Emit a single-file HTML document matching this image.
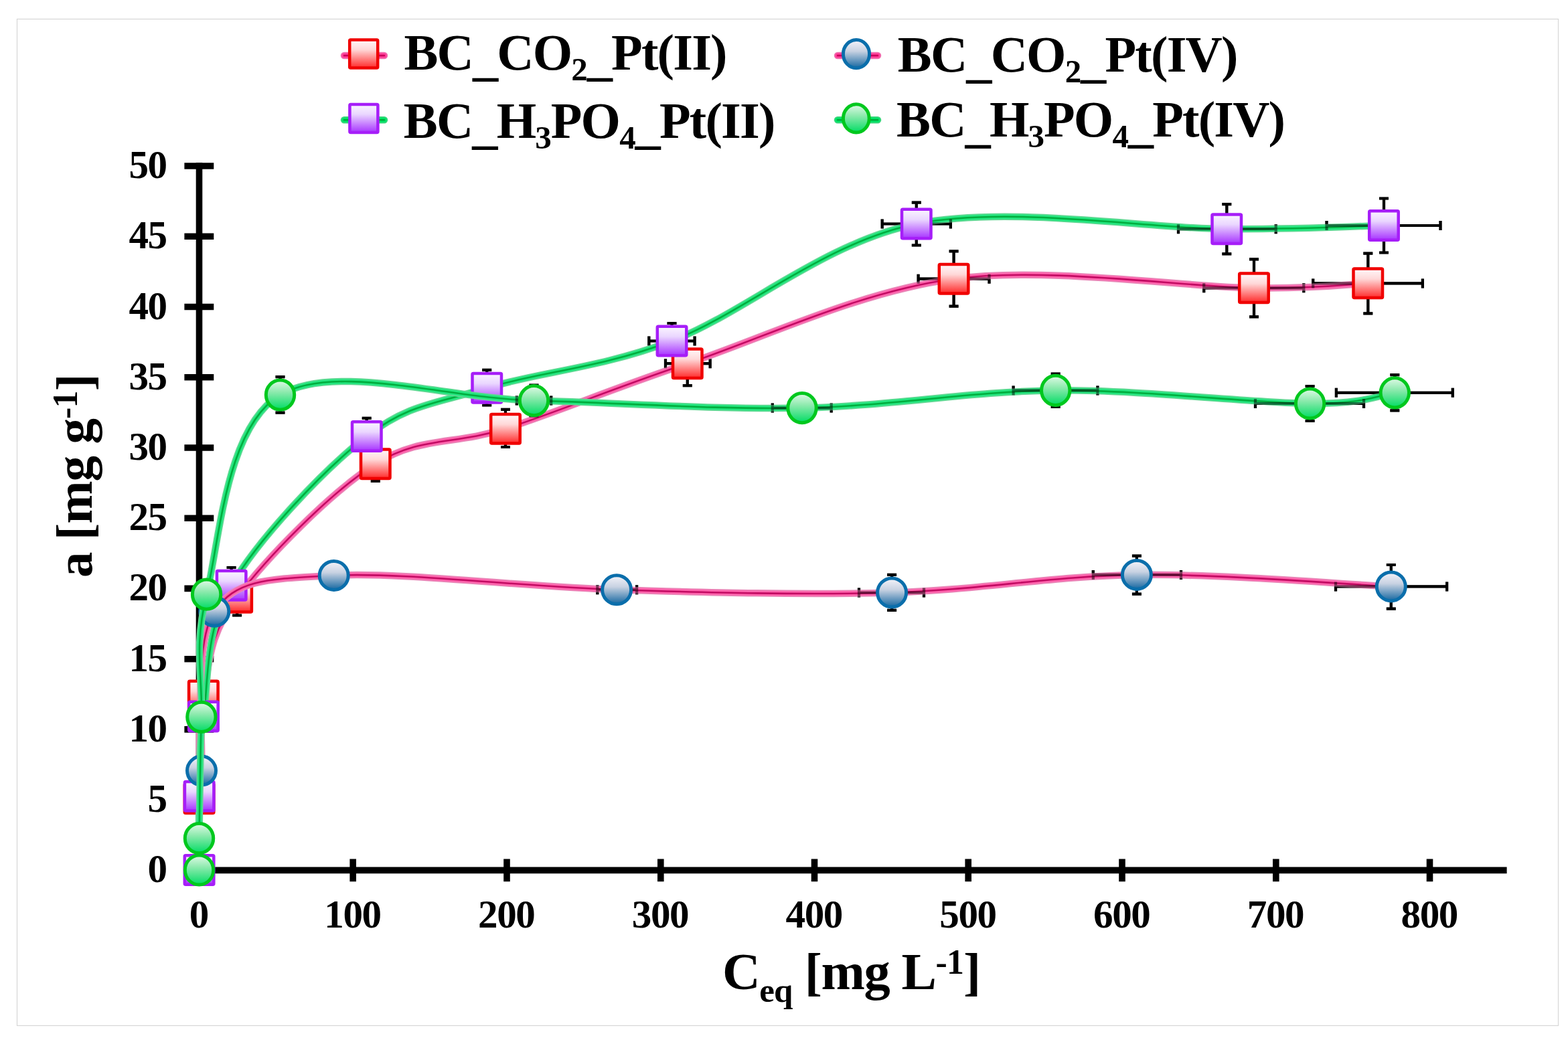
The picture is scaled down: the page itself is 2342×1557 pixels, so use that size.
<!DOCTYPE html>
<html><head><meta charset="utf-8"><title>Adsorption isotherms</title>
<style>html,body{margin:0;padding:0;background:#fff;width:2342px;height:1557px;overflow:hidden}svg{display:block}</style>
</head><body>
<svg width="2342" height="1557" viewBox="0 0 2342 1557">
<defs>
<linearGradient id="gR" x1="0" y1="0" x2="0" y2="1"><stop offset="0" stop-color="#fff8fa"/><stop offset="0.35" stop-color="#ffd8d8"/><stop offset="1" stop-color="#ff2a2a"/></linearGradient>
<linearGradient id="gP" x1="0" y1="0" x2="0" y2="1"><stop offset="0" stop-color="#fbf6ff"/><stop offset="0.35" stop-color="#ead6ff"/><stop offset="1" stop-color="#a733ff"/></linearGradient>
<linearGradient id="gB" x1="0" y1="0" x2="0" y2="1"><stop offset="0" stop-color="#f6f4fa"/><stop offset="0.4" stop-color="#c8d2e2"/><stop offset="1" stop-color="#1466a0"/></linearGradient>
<linearGradient id="gG" x1="0" y1="0" x2="0" y2="1"><stop offset="0" stop-color="#e2fae8"/><stop offset="0.4" stop-color="#8eeaae"/><stop offset="1" stop-color="#00dc64"/></linearGradient>
</defs>
<style>.lp0{fill:none;stroke:#e888b8;stroke-width:10.5}.lp1{fill:none;stroke:#ff62ac;stroke-width:7.2}.lp2{fill:none;stroke:#c20a62;stroke-width:2.6}.lg0{fill:none;stroke:#62d894;stroke-width:10.5}.lg1{fill:none;stroke:#22e67e;stroke-width:7.2}.lg2{fill:none;stroke:#00ad3e;stroke-width:2.6}.Lp0{fill:none;stroke:#f070b0;stroke-width:10.5}.Lp1{fill:none;stroke:#ff3c98;stroke-width:7}.Lp2{fill:none;stroke:#c8005a;stroke-width:2.4}.Lg0{fill:none;stroke:#3ed67e;stroke-width:10.5}.Lg1{fill:none;stroke:#00e466;stroke-width:7}.Lg2{fill:none;stroke:#00a83a;stroke-width:2.4}.eb2{fill:none;stroke:#000;stroke-width:4.2;opacity:0.5}.eb{fill:none;stroke:#000;stroke-width:4.2}.mR{fill:url(#gR);stroke:#f00000;stroke-width:4.5}.mP{fill:url(#gP);stroke:#a61ef8;stroke-width:4.5}.mB{fill:url(#gB);stroke:#0a6eab;stroke-width:5}.mG{fill:url(#gG);stroke:#00c81e;stroke-width:5}.ax{fill:none;stroke:#000;stroke-width:9.6}text{font-family:"Liberation Serif","Times New Roman",serif;font-weight:bold;fill:#000}</style>
<rect x="0" y="0" width="2342" height="1557" fill="#fff"/>
<rect x="25.5" y="28.5" width="2302" height="1504" fill="none" stroke="#d6d6d6" stroke-width="1.2"/>
<path class="ax" d="M297.5,243.1V1305.2M292.6,1300.4H2250.6M275.4,1300.4H319.3M275.4,1195.2H319.3M275.4,1089.9H319.3M275.4,984.7H319.3M275.4,879.4H319.3M275.4,774.2H319.3M275.4,669.0H319.3M275.4,563.7H319.3M275.4,458.5H319.3M275.4,353.2H319.3M275.4,248.0H319.3M527.2,1283.5V1317.3M757.0,1283.5V1317.3M986.8,1283.5V1317.3M1216.5,1283.5V1317.3M1446.2,1283.5V1317.3M1676.0,1283.5V1317.3M1905.8,1283.5V1317.3M2135.5,1283.5V1317.3"/>
<text x="248.7" y="1318.4" text-anchor="end" font-size="59.1" letter-spacing="-1.4">0</text>
<text x="248.7" y="1213.2" text-anchor="end" font-size="59.1" letter-spacing="-1.4">5</text>
<text x="248.7" y="1107.9" text-anchor="end" font-size="59.1" letter-spacing="-1.4">10</text>
<text x="248.7" y="1002.7" text-anchor="end" font-size="59.1" letter-spacing="-1.4">15</text>
<text x="248.7" y="897.4" text-anchor="end" font-size="59.1" letter-spacing="-1.4">20</text>
<text x="248.7" y="792.2" text-anchor="end" font-size="59.1" letter-spacing="-1.4">25</text>
<text x="248.7" y="687.0" text-anchor="end" font-size="59.1" letter-spacing="-1.4">30</text>
<text x="248.7" y="581.7" text-anchor="end" font-size="59.1" letter-spacing="-1.4">35</text>
<text x="248.7" y="476.5" text-anchor="end" font-size="59.1" letter-spacing="-1.4">40</text>
<text x="248.7" y="371.2" text-anchor="end" font-size="59.1" letter-spacing="-1.4">45</text>
<text x="248.7" y="266.0" text-anchor="end" font-size="59.1" letter-spacing="-1.4">50</text>
<text x="296.8" y="1385.6" text-anchor="middle" font-size="59.1" letter-spacing="-1.4">0</text>
<text x="526.5" y="1385.6" text-anchor="middle" font-size="59.1" letter-spacing="-1.4">100</text>
<text x="756.3" y="1385.6" text-anchor="middle" font-size="59.1" letter-spacing="-1.4">200</text>
<text x="986.0" y="1385.6" text-anchor="middle" font-size="59.1" letter-spacing="-1.4">300</text>
<text x="1215.8" y="1385.6" text-anchor="middle" font-size="59.1" letter-spacing="-1.4">400</text>
<text x="1445.5" y="1385.6" text-anchor="middle" font-size="59.1" letter-spacing="-1.4">500</text>
<text x="1675.3" y="1385.6" text-anchor="middle" font-size="59.1" letter-spacing="-1.4">600</text>
<text x="1905.0" y="1385.6" text-anchor="middle" font-size="59.1" letter-spacing="-1.4">700</text>
<text x="2134.8" y="1385.6" text-anchor="middle" font-size="59.1" letter-spacing="-1.4">800</text>
<text x="1079.0" y="1478.2" font-size="78.5" letter-spacing="-1.39">C<tspan font-size="51" letter-spacing="-0.9" dy="18.3">eq</tspan><tspan dy="-18.3"> [mg L</tspan><tspan font-size="51.8" letter-spacing="-0.92" dy="-22.8">-1</tspan><tspan dy="22.8">]</tspan></text>
<text transform="translate(137.4,862.4) rotate(-90)" x="-0.7" y="0" font-size="77" letter-spacing="-0.96">a [mg g<tspan font-size="51.8" letter-spacing="-0.65" dy="-22.6">-1</tspan><tspan dy="22.6">]</tspan></text>
<path class="eb" d="M560.8,693.3V719.0M553.8,719.0H567.8M755.0,640.6V611.9M748.0,611.9H762.0M755.0,640.6V668.0M748.0,668.0H762.0M1026.8,543.2V576.1M1019.8,576.1H1033.8M1026.8,543.2H994.0M994.0,536.2V550.2M1026.8,543.2H1060.7M1060.7,536.2V550.2M1424.6,416.7V375.4M1417.6,375.4H1431.6M1424.6,416.7V457.6M1417.6,457.6H1431.6M1424.6,416.7H1371.6M1371.6,409.7V423.7M1424.6,416.7H1477.5M1477.5,409.7V423.7M1873.0,430.3V387.4M1866.0,387.4H1880.0M1873.0,430.3V473.4M1866.0,473.4H1880.0M1873.0,430.3H1798.2M1798.2,423.3V437.3M1873.0,430.3H1947.3M1947.3,423.3V437.3M2043.3,423.4V378.6M2036.3,378.6H2050.3M2043.3,423.4V468.4M2036.3,468.4H2050.3M2043.3,423.4H1961.2M1961.2,416.4V430.4M2043.3,423.4H2124.9M2124.9,416.4V430.4M354.1,892.8V919.5M347.1,919.5H361.1M547.7,652.0V624.8M540.7,624.8H554.7M727.2,579.8V552.8M720.2,552.8H734.2M727.2,579.8V605.5M720.2,605.5H734.2M1003.5,509.5V483.0M996.5,483.0H1010.5M1003.5,509.5H969.3M969.3,502.5V516.5M1003.5,509.5H1037.6M1037.6,502.5V516.5M1368.8,334.5V302.6M1361.8,302.6H1375.8M1368.8,334.5V366.5M1361.8,366.5H1375.8M1368.8,334.5H1317.7M1317.7,327.5V341.5M1368.8,334.5H1419.9M1419.9,327.5V341.5M1832.3,342.2V305.1M1825.3,305.1H1839.3M1832.3,342.2V379.3M1825.3,379.3H1839.3M1832.3,342.2H1760.0M1760.0,335.2V349.2M1832.3,342.2H1905.7M1905.7,335.2V349.2M2067.0,337.0V296.5M2060.0,296.5H2074.0M2067.0,337.0V377.5M2060.0,377.5H2074.0M2067.0,337.0H1981.5M1981.5,330.0V344.0M2067.0,337.0H2151.5M2151.5,330.0V344.0M345.6,874.7V848.0M338.6,848.0H352.6M921.1,881.2H892.3M892.3,874.2V888.2M921.1,881.2H951.1M951.1,874.2V888.2M1332.1,885.5V858.8M1325.1,858.8H1339.1M1332.1,885.5V911.8M1325.1,911.8H1339.1M1332.1,885.5H1283.0M1283.0,878.5V892.5M1332.1,885.5H1380.0M1380.0,878.5V892.5M1697.9,858.9V830.7M1690.9,830.7H1704.9M1697.9,858.9V887.6M1690.9,887.6H1704.9M1697.9,858.9H1632.8M1632.8,851.9V865.9M1697.9,858.9H1764.0M1764.0,851.9V865.9M2077.8,876.4V844.0M2070.8,844.0H2084.8M2077.8,876.4V909.7M2070.8,909.7H2084.8M2077.8,876.4H1995.0M1995.0,869.4V883.4M2077.8,876.4H2161.1M2161.1,869.4V883.4M418.5,590.1V563.1M411.5,563.1H425.5M418.5,590.1V616.6M411.5,616.6H425.5M797.5,598.6V575.5M790.5,575.5H804.5M797.5,598.6V621.7M790.5,621.7H804.5M797.5,598.6H771.8M771.8,591.6V605.6M797.5,598.6H823.2M823.2,591.6V605.6M1198.0,609.6H1153.8M1153.8,602.6V616.6M1198.0,609.6H1241.7M1241.7,602.6V616.6M1576.7,583.4V558.7M1569.7,558.7H1583.7M1576.7,583.4V608.0M1569.7,608.0H1583.7M1576.7,583.4H1513.6M1513.6,576.4V590.4M1576.7,583.4H1639.4M1639.4,576.4V590.4M1956.6,603.0V577.0M1949.6,577.0H1963.6M1956.6,603.0V629.0M1949.6,629.0H1963.6M1956.6,603.0H1875.0M1875.0,596.0V610.0M1956.6,603.0H2037.0M2037.0,596.0V610.0M2083.3,586.8V560.2M2076.3,560.2H2090.3M2083.3,586.8V613.4M2076.3,613.4H2090.3M2083.3,586.8H1995.9M1995.9,579.8V593.8M2083.3,586.8H2169.8M2169.8,579.8V593.8"/>
<path d="M297.5,1193.3 C298.6,1167.7 294.4,1089.6 303.8,1039.5 C313.2,989.4 311.3,950.5 354.1,892.8 C396.9,835.1 494.0,735.3 560.8,693.3 C627.6,651.3 677.3,665.6 755.0,640.6 C832.7,615.6 915.2,580.5 1026.8,543.2 C1138.4,505.9 1283.6,435.5 1424.6,416.7 C1565.6,397.9 1769.9,429.2 1873.0,430.3 C1976.1,431.4 2014.9,424.5 2043.3,423.4" class="lp0"/><path d="M297.5,1193.3 C298.6,1167.7 294.4,1089.6 303.8,1039.5 C313.2,989.4 311.3,950.5 354.1,892.8 C396.9,835.1 494.0,735.3 560.8,693.3 C627.6,651.3 677.3,665.6 755.0,640.6 C832.7,615.6 915.2,580.5 1026.8,543.2 C1138.4,505.9 1283.6,435.5 1424.6,416.7 C1565.6,397.9 1769.9,429.2 1873.0,430.3 C1976.1,431.4 2014.9,424.5 2043.3,423.4" class="lp1"/><path d="M297.5,1193.3 C298.6,1167.7 294.4,1089.6 303.8,1039.5 C313.2,989.4 311.3,950.5 354.1,892.8 C396.9,835.1 494.0,735.3 560.8,693.3 C627.6,651.3 677.3,665.6 755.0,640.6 C832.7,615.6 915.2,580.5 1026.8,543.2 C1138.4,505.9 1283.6,435.5 1424.6,416.7 C1565.6,397.9 1769.9,429.2 1873.0,430.3 C1976.1,431.4 2014.9,424.5 2043.3,423.4" class="lp2"/>
<path class="eb2" d="M560.8,693.3V719.0M553.8,719.0H567.8M755.0,640.6V611.9M748.0,611.9H762.0M755.0,640.6V668.0M748.0,668.0H762.0M1026.8,543.2V576.1M1019.8,576.1H1033.8M1026.8,543.2H994.0M994.0,536.2V550.2M1026.8,543.2H1060.7M1060.7,536.2V550.2M1424.6,416.7V375.4M1417.6,375.4H1431.6M1424.6,416.7V457.6M1417.6,457.6H1431.6M1424.6,416.7H1371.6M1371.6,409.7V423.7M1424.6,416.7H1477.5M1477.5,409.7V423.7M1873.0,430.3V387.4M1866.0,387.4H1880.0M1873.0,430.3V473.4M1866.0,473.4H1880.0M1873.0,430.3H1798.2M1798.2,423.3V437.3M1873.0,430.3H1947.3M1947.3,423.3V437.3M2043.3,423.4V378.6M2036.3,378.6H2050.3M2043.3,423.4V468.4M2036.3,468.4H2050.3M2043.3,423.4H1961.2M1961.2,416.4V430.4M2043.3,423.4H2124.9M2124.9,416.4V430.4M354.1,892.8V919.5M347.1,919.5H361.1"/>
<rect x="275.8" y="1171.5" width="43.5" height="43.5" rx="1.5" class="mR"/><rect x="282.1" y="1017.8" width="43.5" height="43.5" rx="1.5" class="mR"/><rect x="332.4" y="871.0" width="43.5" height="43.5" rx="1.5" class="mR"/><rect x="539.0" y="671.5" width="43.5" height="43.5" rx="1.5" class="mR"/><rect x="733.2" y="618.9" width="43.5" height="43.5" rx="1.5" class="mR"/><rect x="1005.0" y="521.5" width="43.5" height="43.5" rx="1.5" class="mR"/><rect x="1402.8" y="394.9" width="43.5" height="43.5" rx="1.5" class="mR"/><rect x="1851.2" y="408.6" width="43.5" height="43.5" rx="1.5" class="mR"/><rect x="2021.5" y="401.6" width="43.5" height="43.5" rx="1.5" class="mR"/>
<path d="M297.5,1300.0 C297.5,1281.6 296.5,1228.1 297.6,1189.8 C298.7,1151.5 296.0,1122.9 304.0,1070.4 C312.0,1017.9 305.0,944.4 345.6,874.7 C386.2,805.0 484.1,701.1 547.7,652.0 C611.3,602.9 651.2,603.5 727.2,579.8 C803.2,556.0 896.6,550.4 1003.5,509.5 C1110.4,468.6 1230.7,362.4 1368.8,334.5 C1506.9,306.6 1715.9,341.8 1832.3,342.2 C1948.7,342.6 2027.9,337.9 2067.0,337.0" class="lg0"/><path d="M297.5,1300.0 C297.5,1281.6 296.5,1228.1 297.6,1189.8 C298.7,1151.5 296.0,1122.9 304.0,1070.4 C312.0,1017.9 305.0,944.4 345.6,874.7 C386.2,805.0 484.1,701.1 547.7,652.0 C611.3,602.9 651.2,603.5 727.2,579.8 C803.2,556.0 896.6,550.4 1003.5,509.5 C1110.4,468.6 1230.7,362.4 1368.8,334.5 C1506.9,306.6 1715.9,341.8 1832.3,342.2 C1948.7,342.6 2027.9,337.9 2067.0,337.0" class="lg1"/><path d="M297.5,1300.0 C297.5,1281.6 296.5,1228.1 297.6,1189.8 C298.7,1151.5 296.0,1122.9 304.0,1070.4 C312.0,1017.9 305.0,944.4 345.6,874.7 C386.2,805.0 484.1,701.1 547.7,652.0 C611.3,602.9 651.2,603.5 727.2,579.8 C803.2,556.0 896.6,550.4 1003.5,509.5 C1110.4,468.6 1230.7,362.4 1368.8,334.5 C1506.9,306.6 1715.9,341.8 1832.3,342.2 C1948.7,342.6 2027.9,337.9 2067.0,337.0" class="lg2"/>
<path class="eb2" d="M547.7,652.0V624.8M540.7,624.8H554.7M727.2,579.8V552.8M720.2,552.8H734.2M727.2,579.8V605.5M720.2,605.5H734.2M1003.5,509.5V483.0M996.5,483.0H1010.5M1003.5,509.5H969.3M969.3,502.5V516.5M1003.5,509.5H1037.6M1037.6,502.5V516.5M1368.8,334.5V302.6M1361.8,302.6H1375.8M1368.8,334.5V366.5M1361.8,366.5H1375.8M1368.8,334.5H1317.7M1317.7,327.5V341.5M1368.8,334.5H1419.9M1419.9,327.5V341.5M1832.3,342.2V305.1M1825.3,305.1H1839.3M1832.3,342.2V379.3M1825.3,379.3H1839.3M1832.3,342.2H1760.0M1760.0,335.2V349.2M1832.3,342.2H1905.7M1905.7,335.2V349.2M2067.0,337.0V296.5M2060.0,296.5H2074.0M2067.0,337.0V377.5M2060.0,377.5H2074.0M2067.0,337.0H1981.5M1981.5,330.0V344.0M2067.0,337.0H2151.5M2151.5,330.0V344.0M345.6,874.7V848.0M338.6,848.0H352.6"/>
<rect x="275.8" y="1278.2" width="43.5" height="43.5" rx="1.5" class="mP"/><rect x="275.9" y="1168.0" width="43.5" height="43.5" rx="1.5" class="mP"/><rect x="282.2" y="1048.7" width="43.5" height="43.5" rx="1.5" class="mP"/><rect x="323.9" y="853.0" width="43.5" height="43.5" rx="1.5" class="mP"/><rect x="526.0" y="630.2" width="43.5" height="43.5" rx="1.5" class="mP"/><rect x="705.5" y="558.0" width="43.5" height="43.5" rx="1.5" class="mP"/><rect x="981.8" y="487.8" width="43.5" height="43.5" rx="1.5" class="mP"/><rect x="1347.0" y="312.8" width="43.5" height="43.5" rx="1.5" class="mP"/><rect x="1810.5" y="320.4" width="43.5" height="43.5" rx="1.5" class="mP"/><rect x="2045.2" y="315.2" width="43.5" height="43.5" rx="1.5" class="mP"/>
<path d="M301.0,1151.6 C304.2,1111.9 287.4,962.3 320.3,913.7 C353.2,865.1 398.6,865.3 498.7,859.9 C598.8,854.5 782.2,876.9 921.1,881.2 C1060.0,885.5 1202.6,889.2 1332.1,885.5 C1461.6,881.8 1573.6,860.4 1697.9,858.9 C1822.2,857.4 2014.5,873.5 2077.8,876.4" class="lp0"/><path d="M301.0,1151.6 C304.2,1111.9 287.4,962.3 320.3,913.7 C353.2,865.1 398.6,865.3 498.7,859.9 C598.8,854.5 782.2,876.9 921.1,881.2 C1060.0,885.5 1202.6,889.2 1332.1,885.5 C1461.6,881.8 1573.6,860.4 1697.9,858.9 C1822.2,857.4 2014.5,873.5 2077.8,876.4" class="lp1"/><path d="M301.0,1151.6 C304.2,1111.9 287.4,962.3 320.3,913.7 C353.2,865.1 398.6,865.3 498.7,859.9 C598.8,854.5 782.2,876.9 921.1,881.2 C1060.0,885.5 1202.6,889.2 1332.1,885.5 C1461.6,881.8 1573.6,860.4 1697.9,858.9 C1822.2,857.4 2014.5,873.5 2077.8,876.4" class="lp2"/>
<path class="eb2" d="M921.1,881.2H892.3M892.3,874.2V888.2M921.1,881.2H951.1M951.1,874.2V888.2M1332.1,885.5V858.8M1325.1,858.8H1339.1M1332.1,885.5V911.8M1325.1,911.8H1339.1M1332.1,885.5H1283.0M1283.0,878.5V892.5M1332.1,885.5H1380.0M1380.0,878.5V892.5M1697.9,858.9V830.7M1690.9,830.7H1704.9M1697.9,858.9V887.6M1690.9,887.6H1704.9M1697.9,858.9H1632.8M1632.8,851.9V865.9M1697.9,858.9H1764.0M1764.0,851.9V865.9M2077.8,876.4V844.0M2070.8,844.0H2084.8M2077.8,876.4V909.7M2070.8,909.7H2084.8M2077.8,876.4H1995.0M1995.0,869.4V883.4M2077.8,876.4H2161.1M2161.1,869.4V883.4"/>
<ellipse cx="301.0" cy="1151.6" rx="21.5" ry="21.5" class="mB"/><ellipse cx="320.3" cy="913.7" rx="21.5" ry="21.5" class="mB"/><ellipse cx="498.7" cy="859.9" rx="21.5" ry="21.5" class="mB"/><ellipse cx="921.1" cy="881.2" rx="21.5" ry="21.5" class="mB"/><ellipse cx="1332.1" cy="885.5" rx="21.5" ry="21.5" class="mB"/><ellipse cx="1697.9" cy="858.9" rx="21.5" ry="21.5" class="mB"/><ellipse cx="2077.8" cy="876.4" rx="21.5" ry="21.5" class="mB"/>
<path d="M297.5,1300.0 C297.5,1292.1 296.9,1290.8 297.5,1252.7 C298.1,1214.6 299.0,1132.0 300.9,1071.3 C302.8,1010.5 289.0,968.4 308.6,888.2 C328.2,808.0 337.0,638.4 418.5,590.1 C500.0,541.8 667.6,595.4 797.5,598.6 C927.4,601.9 1068.1,612.1 1198.0,609.6 C1327.9,607.1 1450.3,584.5 1576.7,583.4 C1703.1,582.3 1872.2,602.4 1956.6,603.0 C2041.0,603.6 2062.2,589.5 2083.3,586.8" class="lg0"/><path d="M297.5,1300.0 C297.5,1292.1 296.9,1290.8 297.5,1252.7 C298.1,1214.6 299.0,1132.0 300.9,1071.3 C302.8,1010.5 289.0,968.4 308.6,888.2 C328.2,808.0 337.0,638.4 418.5,590.1 C500.0,541.8 667.6,595.4 797.5,598.6 C927.4,601.9 1068.1,612.1 1198.0,609.6 C1327.9,607.1 1450.3,584.5 1576.7,583.4 C1703.1,582.3 1872.2,602.4 1956.6,603.0 C2041.0,603.6 2062.2,589.5 2083.3,586.8" class="lg1"/><path d="M297.5,1300.0 C297.5,1292.1 296.9,1290.8 297.5,1252.7 C298.1,1214.6 299.0,1132.0 300.9,1071.3 C302.8,1010.5 289.0,968.4 308.6,888.2 C328.2,808.0 337.0,638.4 418.5,590.1 C500.0,541.8 667.6,595.4 797.5,598.6 C927.4,601.9 1068.1,612.1 1198.0,609.6 C1327.9,607.1 1450.3,584.5 1576.7,583.4 C1703.1,582.3 1872.2,602.4 1956.6,603.0 C2041.0,603.6 2062.2,589.5 2083.3,586.8" class="lg2"/>
<path class="eb2" d="M418.5,590.1V563.1M411.5,563.1H425.5M418.5,590.1V616.6M411.5,616.6H425.5M797.5,598.6V575.5M790.5,575.5H804.5M797.5,598.6V621.7M790.5,621.7H804.5M797.5,598.6H771.8M771.8,591.6V605.6M797.5,598.6H823.2M823.2,591.6V605.6M1198.0,609.6H1153.8M1153.8,602.6V616.6M1198.0,609.6H1241.7M1241.7,602.6V616.6M1576.7,583.4V558.7M1569.7,558.7H1583.7M1576.7,583.4V608.0M1569.7,608.0H1583.7M1576.7,583.4H1513.6M1513.6,576.4V590.4M1576.7,583.4H1639.4M1639.4,576.4V590.4M1956.6,603.0V577.0M1949.6,577.0H1963.6M1956.6,603.0V629.0M1949.6,629.0H1963.6M1956.6,603.0H1875.0M1875.0,596.0V610.0M1956.6,603.0H2037.0M2037.0,596.0V610.0M2083.3,586.8V560.2M2076.3,560.2H2090.3M2083.3,586.8V613.4M2076.3,613.4H2090.3M2083.3,586.8H1995.9M1995.9,579.8V593.8M2083.3,586.8H2169.8M2169.8,579.8V593.8"/>
<ellipse cx="297.5" cy="1300.0" rx="21.2" ry="22.1" class="mG"/><ellipse cx="297.5" cy="1252.7" rx="21.2" ry="22.1" class="mG"/><ellipse cx="300.9" cy="1071.3" rx="21.2" ry="22.1" class="mG"/><ellipse cx="308.6" cy="888.2" rx="21.2" ry="22.1" class="mG"/><ellipse cx="418.5" cy="590.1" rx="21.2" ry="22.1" class="mG"/><ellipse cx="797.5" cy="598.6" rx="21.2" ry="22.1" class="mG"/><ellipse cx="1198.0" cy="609.6" rx="21.2" ry="22.1" class="mG"/><ellipse cx="1576.7" cy="583.4" rx="21.2" ry="22.1" class="mG"/><ellipse cx="1956.6" cy="603.0" rx="21.2" ry="22.1" class="mG"/><ellipse cx="2083.3" cy="586.8" rx="21.2" ry="22.1" class="mG"/>
<g stroke-linecap="round"><path d="M514.0,83.0H574.0" class="Lp0"/><path d="M514.0,83.0H574.0" class="Lp1"/><path d="M514.0,83.0H574.0" class="Lp2"/></g>
<rect x="522.2" y="59.5" width="42.0" height="42.0" rx="1.5" class="mR"/>
<g stroke-linecap="round"><path d="M1251.0,83.0H1311.0" class="Lp0"/><path d="M1251.0,83.0H1311.0" class="Lp1"/><path d="M1251.0,83.0H1311.0" class="Lp2"/></g>
<ellipse cx="1279.0" cy="80.7" rx="19.6" ry="21.1" class="mB"/>
<g stroke-linecap="round"><path d="M514.0,179.2H574.0" class="Lg0"/><path d="M514.0,179.2H574.0" class="Lg1"/><path d="M514.0,179.2H574.0" class="Lg2"/></g>
<rect x="522.4" y="156.1" width="42.0" height="42.0" rx="1.5" class="mP"/>
<g stroke-linecap="round"><path d="M1251.0,179.2H1311.0" class="Lg0"/><path d="M1251.0,179.2H1311.0" class="Lg1"/><path d="M1251.0,179.2H1311.0" class="Lg2"/></g>
<ellipse cx="1278.8" cy="176.9" rx="19.4" ry="21.1" class="mG"/>
<text x="603.4" y="104.4" font-size="76.4" letter-spacing="-1.8"><tspan dy="0.0">BC</tspan><tspan dy="7.0">_</tspan><tspan dy="-7.0">CO</tspan><tspan font-size="49" letter-spacing="-1.15" dy="16.0">2</tspan><tspan dy="-9.0">_</tspan><tspan dy="-7.0">Pt(II)</tspan></text>
<text x="1340.8" y="106.5" font-size="76.4" letter-spacing="-1.8"><tspan dy="0.0">BC</tspan><tspan dy="7.0">_</tspan><tspan dy="-7.0">CO</tspan><tspan font-size="49" letter-spacing="-1.15" dy="16.0">2</tspan><tspan dy="-9.0">_</tspan><tspan dy="-7.0">Pt(IV)</tspan></text>
<text x="602.8" y="206.3" font-size="76.4" letter-spacing="-1.8"><tspan dy="0.0">BC</tspan><tspan dy="7.0">_</tspan><tspan dy="-7.0">H</tspan><tspan font-size="49" letter-spacing="-1.15" dy="16.0">3</tspan><tspan dy="-16.0">PO</tspan><tspan font-size="49" letter-spacing="-1.15" dy="16.0">4</tspan><tspan dy="-9.0">_</tspan><tspan dy="-7.0">Pt(II)</tspan></text>
<text x="1339.0" y="203.6" font-size="76.4" letter-spacing="-1.8"><tspan dy="0.0">BC</tspan><tspan dy="7.0">_</tspan><tspan dy="-7.0">H</tspan><tspan font-size="49" letter-spacing="-1.15" dy="16.0">3</tspan><tspan dy="-16.0">PO</tspan><tspan font-size="49" letter-spacing="-1.15" dy="16.0">4</tspan><tspan dy="-9.0">_</tspan><tspan dy="-7.0">Pt(IV)</tspan></text>
</svg>
</body></html>
